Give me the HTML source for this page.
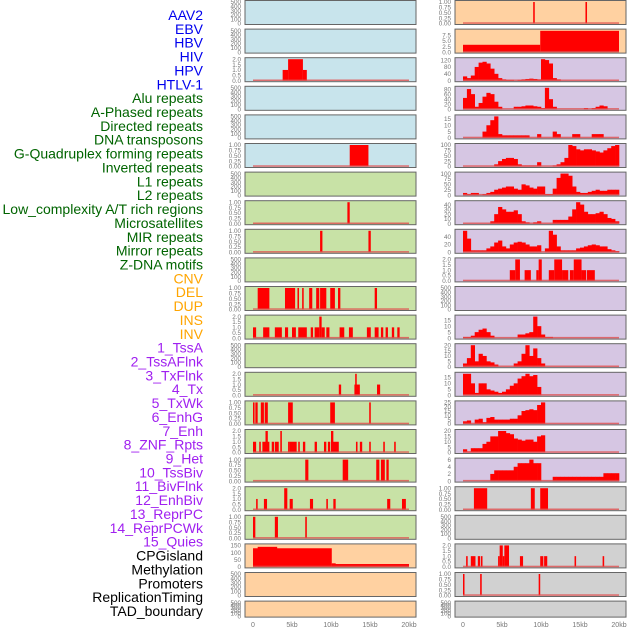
<!DOCTYPE html>
<html><head><meta charset="utf-8"><style>
body{margin:0;background:#fff;width:630px;height:630px;overflow:hidden}
svg{display:block;font-family:"Liberation Sans",sans-serif}
</style></head><body>
<svg id="c" width="630" height="630"></svg>
<script>
const labels=["AAV2","EBV","HBV","HIV","HPV","HTLV-1","Alu repeats","A-Phased repeats","Directed repeats","DNA transposons","G-Quadruplex forming repeats","Inverted repeats","L1 repeats","L2 repeats","Low_complexity A/T rich regions","Microsatellites","MIR repeats","Mirror repeats","Z-DNA motifs","CNV","DEL","DUP","INS","INV","1_TssA","2_TssAFlnk","3_TxFlnk","4_Tx","5_TxWk","6_EnhG","7_Enh","8_ZNF_Rpts","9_Het","10_TssBiv","11_BivFlnk","12_EnhBiv","13_ReprPC","14_ReprPCWk","15_Quies","CPGisland","Methylation","Promoters","ReplicationTiming","TAD_boundary"];
const labelGroups=[6,13,5,15,5];
const groupColors=["#0000ee","#006400","#ffa500","#a020f0","#000000"];
const xTicks=[0,5,10,15,20];
const xTickLabels=["0","5kb","10kb","15kb","20kb"];
// left column bar data [startKb,endKb,value]
const L2=[[3.8,4.5,1],[4.5,6.4,2],[6.4,6.9,1]];
const L5=[[12.4,14.8,1]];
const L7=[[12.1,12.4,1]];
const L8=[[8.6,8.9,1],[14.8,15.1,1]];
const L10=[[0.6,2.1,1],[4.1,5.4,1],[5.7,5.9,1],[6.3,6.5,1],[7.2,7.6,1],[8.1,8.5,1],[8.6,9.4,1],[9.9,10.5,1],[10.9,11.2,1],[15.6,15.9,1]];
const L11=[[0,0.4,1],[1.3,2.1,1],[2.8,3.7,1],[4.1,4.5,1],[5,5.5,1],[5.8,6.9,1],[7.4,7.7,1],[7.9,8.5,1],[8.5,8.8,2],[8.8,9.2,1],[9.4,9.8,1],[11.1,11.7,1],[12.3,12.8,1],[14.6,15.1,1],[15.6,16.1,1],[16.4,16.7,1],[17,17.3,1],[17.8,18.1,1],[18.5,18.8,1]];
const L13=[[11,11.3,1],[13,13.7,1],[13.1,13.3,2],[15.9,16.3,1]];
const L14=[[0,0.2,1],[0.3,0.6,1],[1,1.4,1],[1.5,1.9,1],[4.5,5.1,1],[9.9,10.5,1],[14.9,15.1,1]];
const L15=[[0,0.4,1],[0.8,1,1],[1.2,2.1,1],[1.6,1.9,2],[2.4,2.7,1],[2.8,3.3,1],[3.5,3.7,2],[4.5,4.7,1],[4.7,5.6,1],[5.8,6,1],[6.4,6.7,1],[7.9,8.2,1],[9.1,9.4,1],[9.6,9.9,1],[10,11,1],[10,10.3,2],[13.2,13.4,1],[13.7,14,1],[14.9,15.1,1],[16.7,16.9,1],[18.1,18.3,1]];
const L16=[[6.7,7.1,1],[11.5,12.2,1],[15.8,16.2,1],[16.4,16.9,1],[17.1,17.4,1]];
const L17=[[0.4,0.6,1],[1.4,1.8,1],[4,4.4,2],[4.7,5.1,1],[7.3,7.7,1],[9.4,9.6,1],[10.3,10.6,1],[17.2,17.6,1],[19.1,19.6,1]];
const L18=[[0,0.3,1],[2.8,3.2,1],[6.7,6.9,1]];
const L19=[[0,10.1,130],[0.6,3.1,140],[10.1,20,20],[10.1,10.6,25]];
// right column
const R0=[[9,9.2,1],[15.7,15.9,1]];
const R1=[[0,9.9,3.3],[9.9,20,9.6]];
const R2=[25,15,30,80,105,110,100,70,40,15,8,5,5,0,5,8,10,12,10,8,125,120,100,15,8,0,0,0,0,0,0,0,0,0,0,0,0,0,0,0];
const R3=[45,80,60,10,25,50,65,60,30,10,0,0,0,10,10,12,15,15,12,10,5,85,40,10,0,0,0,0,0,0,0,5,0,5,10,15,12,0,0,0];
const R4=[0,0,0,0,0,5,10,14,17,3,2,2,2,2,2,2,2,0,0,3,0,0,0,5,3,0,0,0,3,3,0,0,0,3,3,3,0,0,0,0];
const R5=[0,0,0,0,0,0,0,0,10,25,35,40,40,35,10,5,5,5,5,20,0,0,0,5,10,20,40,100,95,80,75,80,80,75,70,65,75,85,95,100];
const R6=[10,5,10,10,0,5,10,15,25,30,35,40,40,30,25,50,45,35,30,40,40,5,5,30,80,100,100,90,40,15,10,10,15,20,25,20,20,25,25,25];
const R7=[0,0,0,0,0,0,0,5,20,35,30,25,25,28,20,5,3,0,3,5,0,0,0,8,8,8,8,15,30,45,40,25,20,20,22,25,20,12,10,5];
const R8=[55,35,5,5,5,5,10,15,25,30,15,10,20,25,27,25,20,15,15,18,0,10,55,45,15,5,5,5,5,10,12,15,18,20,18,15,15,8,5,3];
const R9=[[6,6.7,1],[6.7,7.3,2],[7.9,8.7,1],[9.4,9.7,1],[9.7,10.1,2],[11,11.7,1],[11.7,12.7,2],[12.7,13.5,1],[13.7,14.2,1],[14.2,15.2,2],[15.2,15.8,1],[15.9,16.9,1]];
const R11=[1,1,2,5,7,8,5,2,0,0,0,0,0,0,3,3,4,5,18,10,3,1,1,0,0,0,0,0,0,0,0,0,0,0,0,0,0,0,0,0];
const R12=[3,8,20,5,12,10,5,4,2,0,0,0,0,3,5,12,20,10,17,8,3,0,0,0,0,0,0,0,0,0,0,0,0,0,0,0,0,0,0,0];
const R13=[18,18,10,2,10,10,5,4,3,2,3,5,8,10,14,16,18,16,17,7,0,0,0,0,0,0,0,0,0,0,0,0,0,0,0,0,0,0,0,0];
const R14=[3,4,0,5,6,2,7,8,5,5,5,5,6,6,10,15,16,17,16,22,25,0,0,0,0,0,0,0,0,0,0,0,0,0,0,0,0,0,0,0];
const R15=[3,1,4,4,4,8,10,15,15,20,20,18,17,13,12,11,12,12,10,15,16,0,0,0,0,0,0,0,0,0,0,0,0,0,0,0,0,0,0,0];
const R16=[0,0,0,0,0,0,0,2,3,3,3,3,3,4,5,5,5,6,5,5,0,0,0,1.2,1.2,1.2,1.2,1.2,1.2,1.2,1.2,1.2,1.2,1.2,1.2,1.2,2.2,2.2,2.2,2.2];
const R17=[[1.4,3.1,1],[8.7,9.2,1],[9.9,10.9,1]];
const R19=[[0.4,0.6,1],[1,1.6,1],[1.9,2.2,1],[2.3,2.5,1],[4.5,4.7,1],[4.7,5.1,2],[5.1,5.3,1],[5.3,5.9,2],[7.3,7.7,1],[9.9,10.3,1],[10.4,10.8,1],[14.3,14.5,1],[17.9,18.1,1]];
const R20=[[0,0.15,1],[2.2,2.4,1],[9.7,9.9,1]];
</script>
<script>
const BLUE="#c8e4ec",GREEN="#c8e2a6",ORANGE="#ffd1a1",PURPLE="#d6c6e3",GRAY="#d1d1d1";
const EMPTY=[0,100,200,300,400,500],T1=[0,0.25,0.5,0.75,1],T2=[0,0.5,1,1.5,2];
function T(a){return a;}
const left=[
 [BLUE,EMPTY,500,null],[BLUE,EMPTY,500,null],[BLUE,T2,2,L2],[BLUE,EMPTY,500,null],[BLUE,EMPTY,500,null],[BLUE,T1,1,L5],
 [GREEN,EMPTY,500,null],[GREEN,T1,1,L7],[GREEN,T1,1,L8],[GREEN,EMPTY,500,null],[GREEN,T1,1,L10],[GREEN,T2,2,L11],
 [GREEN,EMPTY,500,null],[GREEN,T2,2,L13],[GREEN,T1,1,L14],[GREEN,T2,2,L15],[GREEN,T1,1,L16],[GREEN,T2,2,L17],[GREEN,T1,1,L18],
 [ORANGE,[0,50,100,150],150,L19],[ORANGE,EMPTY,500,null],[ORANGE,EMPTY,500,null]];
const right=[
 [ORANGE,T1,1,R0],[ORANGE,[0,2.5,5,7.5],9.7,R1],[PURPLE,[0,40,80,120],125,R2],[PURPLE,[0,20,40,60,80],85,R3],[PURPLE,[0,5,10,15],17,R4],
 [PURPLE,[0,25,50,75,100],100,R5],[PURPLE,[0,25,50,75,100],100,R6],[PURPLE,[0,10,20,30,40],45,R7],[PURPLE,[0,20,40],55,R8],
 [PURPLE,T2,2,R9],[PURPLE,EMPTY,500,null],[PURPLE,[0,5,10,15],18,R11],[PURPLE,[0,5,10,15,20],20,R12],[PURPLE,[0,5,10,15],18,R13],
 [PURPLE,[0,5,10,15,20,25],25,R14],[PURPLE,[0,5,10,15,20],20,R15],[PURPLE,[0,2,4,6],6,R16],[GRAY,T1,1,R17],[GRAY,EMPTY,500,null],
 [GRAY,T2,2,R19],[GRAY,T1,1,R20],[GRAY,EMPTY,500,null]];
const svg=document.getElementById('c');const NS="http://www.w3.org/2000/svg";
function el(t,a,txt){const e=document.createElementNS(NS,t);for(const k in a)e.setAttribute(k,a[k]);if(txt!=null)e.textContent=txt;svg.appendChild(e);return e;}
function fmt(v,ticks){const mx=Math.max(...ticks);if(mx<=1)return v.toFixed(2);if(mx<=2)return v.toFixed(1);if(ticks.some(t=>t%1))return v.toFixed(1);return String(v);}
function drawCol(cfg,px0,nameP){
 const x0=px0,w=171,d0=px0+8,d1=px0+164;const xs=k=>d0+(k/20)*(d1-d0);
 cfg.forEach((c,i)=>{
  const top=0.5+i*28.6,h=(i==21?16:24);const base=top+h-1,ytop=top+1.5;
  const ys=v=>base-(v/c[2])*(base-ytop);
  const r=el('rect',{x:x0,y:top,width:w,height:h,fill:c[0],stroke:'#666','stroke-width':1});
  
  
  c[1].forEach(t=>{const tx=el('text',{x:x0-4,y:ys(t)+2.2,'font-size':6.3,fill:'#777','text-anchor':'end'},fmt(t,c[1]));
   
   });
  const d=c[3];if(!d)return;
  if(typeof d[0]==='number'){
   d.forEach((v,j)=>{if(v<=0)return;const b=el('rect',{x:xs(j*0.5),y:ys(v),width:xs(0.5)-xs(0)+0.3,height:base-ys(v),fill:'#ff0000'});
    
    });
  }else{
   d.forEach(s=>{const b=el('rect',{x:xs(s[0]),y:ys(s[2]),width:Math.max(1.5,xs(s[1])-xs(s[0])),height:base-ys(s[2]),fill:'#ff0000'});
    
    });
  }
  const bl=el('rect',{x:xs(0),y:base-1.2,width:xs(20)-xs(0),height:1.5,fill:'#e05050',opacity:0.8});
  
  
 });
 xTicks.forEach((k,j)=>{const t=el('text',{x:xs(k),y:627,'font-size':7,fill:'#777','text-anchor':'middle'},xTickLabels[j]);
  
  });
}
drawCol(left,245,'left');drawCol(right,455,'right');
let gi=0,cnt=0;
labels.forEach((l,i)=>{while(cnt>=labelGroups[gi]){cnt=0;gi++;}cnt++;
 const t=el('text',{x:203,y:20+i*13.86,'font-size':14,fill:groupColors[gi],'text-anchor':'end'},l);
 
 });
</script>
</body></html>
